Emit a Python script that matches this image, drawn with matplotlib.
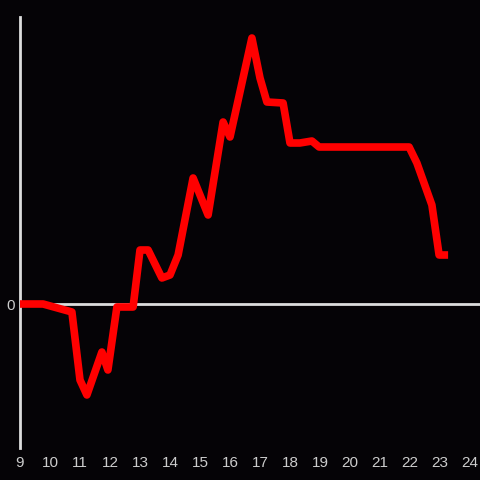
import matplotlib.pyplot as plt

# hour of day and change (arbitrary units, only 0 is labelled)
hours = [9.0, 9.77, 10.73, 11.0, 11.23, 11.73, 11.93, 12.23, 12.77, 13.0,
         13.27, 13.73, 14.0, 14.27, 14.77, 15.27, 15.77, 16.0, 16.73, 17.0,
         17.23, 17.77, 18.0, 18.33, 18.73, 18.97, 21.97, 22.23, 22.73, 22.97,
         23.27]
values = [0, 0, -8, -76, -91, -48, -66, -3, -3, 54,
          54, 26, 29, 49, 126, 89, 182, 167, 266, 226,
          202, 201, 161, 161, 163, 157, 157, 141, 99, 49,
          49]
xticks = list(range(9, 25))

BG = "#050306"
AXIS = "#dddddd"
TEXT = "#cccccc"

fig = plt.figure(figsize=(4.8, 4.8), dpi=100, facecolor=BG)
ax = fig.add_axes([20 / 480, 32 / 480, 460 / 480, 431 / 480])
ax.set_facecolor(BG)

ax.axhline(0, color=AXIS, lw=2.0, zorder=1)
ax.plot(hours, values, color="#ff0000", lw=5.5, solid_capstyle="butt",
        solid_joinstyle="round", zorder=3)

ax.set_xlim(9, 9 + 460 / 30)
ax.set_ylim(-144, 287)
ax.set_xticks(xticks)
ax.set_xticklabels([str(t) for t in xticks])
ax.set_yticks([0])
ax.set_yticklabels(["0"])
ax.tick_params(axis="both", length=0, colors=TEXT, labelsize=11)
ax.tick_params(axis="x", pad=6)
ax.tick_params(axis="y", pad=4)
for lab in ax.get_xticklabels() + ax.get_yticklabels():
    lab.set_fontfamily("Liberation Sans")

for side in ["top", "right", "bottom"]:
    ax.spines[side].set_visible(False)
ax.spines["left"].set_color(AXIS)
ax.spines["left"].set_linewidth(2.0)

fig.savefig("out.png", dpi=100, facecolor=BG)
